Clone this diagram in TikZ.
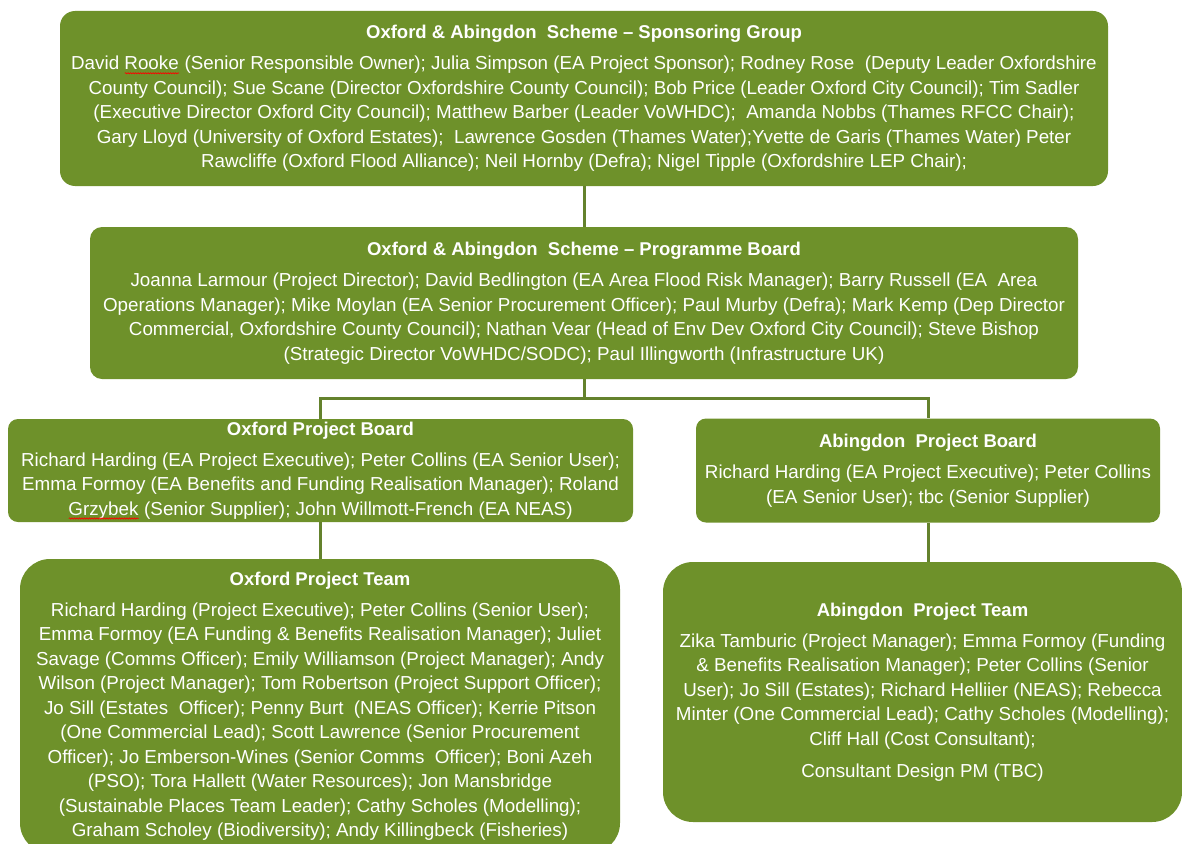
\documentclass[tikz,border=0pt]{standalone}
\usepackage{fontspec}
\setmainfont{Liberation Sans}
\usetikzlibrary{decorations.pathmorphing}
\definecolor{olivebox}{RGB}{110,145,42}
\definecolor{oliveline}{RGB}{100,130,45}
\tikzset{
  box/.style={fill=olivebox, text=white, align=center, inner sep=0pt,
    font=\fontsize{18.8}{24.5}\selectfont},
  link/.style={draw=oliveline, line width=3pt},
}
\newcommand\ttl[1]{{\fontsize{18.5}{24.5}\selectfont\textbf{#1}}\\[6.5pt]}
\newcommand\spellmark[1]{\setbox0=\hbox{#1}\rlap{\usebox0}\tikz[baseline=0pt, sharp corners, x=1pt, y=1pt]{\draw[red, line width=0.6pt, sharp corners, decorate, decoration={snake, amplitude=0.6pt, segment length=2.5pt}] (0pt,-3.5pt) -- (\wd0,-3.5pt);}}
\begin{document}
\begin{tikzpicture}[x=1pt,y=-1pt]
\useasboundingbox (0,0) rectangle (1182,843);
\clip (0,0) rectangle (1182,843);

\node[box, rounded corners=15pt, minimum width=1048pt, minimum height=175pt] (b1) at (584,98.5)
 {\ttl{Oxford \& Abingdon\ \ Scheme – Sponsoring Group}
  David \spellmark{Rooke} (Senior Responsible Owner); Julia Simpson (EA Project Sponsor); Rodney Rose\ \ (Deputy Leader Oxfordshire\\
  County Council); Sue Scane (Director Oxfordshire County Council); Bob Price (Leader Oxford City Council); Tim Sadler\\
  (Executive Director Oxford City Council); Matthew Barber (Leader VoWHDC);\ \ Amanda Nobbs (Thames RFCC Chair);\\
  Gary Lloyd (University of Oxford Estates);\ \ Lawrence Gosden (Thames Water);Yvette de Garis (Thames Water) Peter\\
  Rawcliffe (Oxford Flood Alliance); Neil Hornby (Defra); Nigel Tipple (Oxfordshire LEP Chair);};

\node[box, rounded corners=12pt, minimum width=988pt, minimum height=152pt] (b2) at (584,303)
 {\ttl{Oxford \& Abingdon\ \ Scheme – Programme Board}
  Joanna Larmour (Project Director); David Bedlington (EA Area Flood Risk Manager); Barry Russell (EA\ \ Area\\
  Operations Manager); Mike Moylan (EA Senior Procurement Officer); Paul Murby (Defra); Mark Kemp (Dep Director\\
  Commercial, Oxfordshire County Council); Nathan Vear (Head of Env Dev Oxford City Council); Steve Bishop\\
  (Strategic Director VoWHDC/SODC); Paul Illingworth (Infrastructure UK)};

\node[box, rounded corners=10pt, minimum width=625pt, minimum height=103pt] (b3) at (320.5,470.5)
 {\ttl{Oxford Project Board}
  Richard Harding (EA Project Executive); Peter Collins (EA Senior User);\\
  Emma Formoy (EA Benefits and Funding Realisation Manager); Roland\\
  \spellmark{Grzybek} (Senior Supplier); John Willmott-French (EA NEAS)};

\node[box, rounded corners=10pt, minimum width=464pt, minimum height=104pt] (b4) at (928,470.5)
 {\ttl{Abingdon\ \ Project Board}
  Richard Harding (EA Project Executive); Peter Collins\\
  (EA Senior User); tbc (Senior Supplier)};

\node[box, rounded corners=30pt, minimum width=600pt, minimum height=294pt] (b5) at (320,706)
 {\ttl{Oxford Project Team}
  Richard Harding (Project Executive); Peter Collins (Senior User);\\
  Emma Formoy (EA Funding \& Benefits Realisation Manager); Juliet\\
  Savage (Comms Officer); Emily Williamson (Project Manager); Andy\\
  Wilson (Project Manager); Tom Robertson (Project Support Officer);\\
  Jo Sill (Estates\ \ Officer); Penny Burt\ \ (NEAS Officer); Kerrie Pitson\\
  (One Commercial Lead); Scott Lawrence (Senior Procurement\\
  Officer); Jo Emberson-Wines (Senior Comms\ \ Officer); Boni Azeh\\
  (PSO); Tora Hallett (Water Resources); Jon Mansbridge\\
  (Sustainable Places Team Leader); Cathy Scholes (Modelling);\\
  Graham Scholey (Biodiversity); Andy Killingbeck (Fisheries)};

\node[box, rounded corners=30pt, minimum width=519pt, minimum height=260pt] (b6) at (922.5,692)
 {\ttl{Abingdon\ \ Project Team}
  Zika Tamburic (Project Manager); Emma Formoy (Funding\\
  \& Benefits Realisation Manager); Peter Collins (Senior\\
  User); Jo Sill (Estates); Richard Helliier (NEAS); Rebecca\\
  Minter (One Commercial Lead); Cathy Scholes (Modelling);\\
  Cliff Hall (Cost Consultant);\\[8pt]
  Consultant Design PM (TBC)};

\coordinate (j) at (584,398);
\draw[link] (b1.south) -- (b2.north);
\draw[link] (b2.south) -- (j);
\draw[link] (b3.north) |- (j) -| (b4.north);
\draw[link] (b3.south) -- (b3.south |- b5.north);
\draw[link] (b4.south) -- (b4.south |- b6.north);
\end{tikzpicture}
\end{document}
